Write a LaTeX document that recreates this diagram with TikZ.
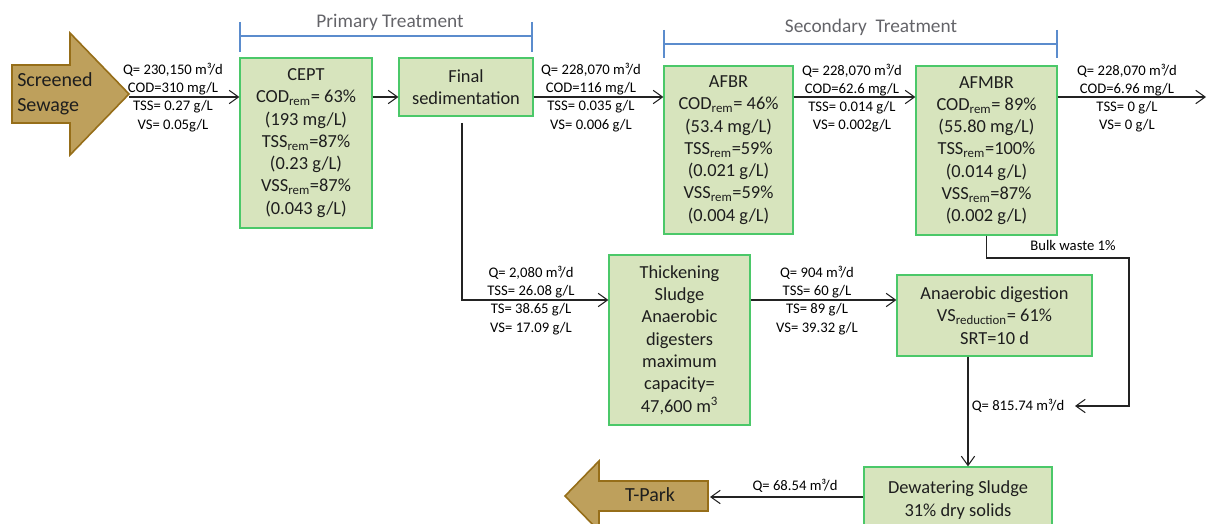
\documentclass[tikz,border=0pt]{standalone}
\usepackage{fontspec}
\setmainfont{Carlito}
\usetikzlibrary{arrows.meta}
\definecolor{boxfill}{RGB}{215,228,189}
\definecolor{boxline}{RGB}{75,200,105}
\definecolor{arrfill}{RGB}{190,160,92}
\definecolor{arrline}{RGB}{150,110,25}
\definecolor{brkcol}{RGB}{91,140,205}
\definecolor{ttlcol}{RGB}{100,100,105}
\definecolor{txtcol}{RGB}{30,30,30}
\definecolor{lncol}{RGB}{35,35,35}
\begin{document}
\begin{tikzpicture}[x=0.75pt,y=-0.75pt,
  proc/.style={draw=boxline, line width=0.9pt, fill=boxfill, inner sep=0pt, align=center,
    font=\fontsize{13.8}{16.7}\selectfont, text=txtcol},
  lbl/.style={align=center, font=\fontsize{11}{13.6}\selectfont, inner sep=0pt, text=black},
  arr/.style={draw=lncol, line width=0.8pt, -{Straight Barb[length=7pt,width=10pt]}},
  bigarrow/.style={fill=arrfill, draw=arrline, line width=1.2pt},
  brk/.style={draw=brkcol, line width=0.8pt},
  ttl/.style={font=\fontsize{14.5}{17}\selectfont, text=ttlcol, inner sep=0pt},
  bigtxt/.style={font=\fontsize{15}{18.75}\selectfont, text=txtcol, inner sep=0pt}
]
\useasboundingbox (0,0) rectangle (1208,524);
\clip (0,0) rectangle (1208,524);

% brackets
\draw[brk] (240,22) -- (240,52);
\draw[brk] (532,22) -- (532,52);
\draw[brk] (240,36) -- (532,36);
\node[ttl] (pt) at (390,22) {Primary Treatment};
\draw[brk] (664,30) -- (664,58);
\draw[brk] (1057,30) -- (1057,58);
\draw[brk] (664,44) -- (1057,44);
\node[ttl] (st) at (871,27) {Secondary\ \ Treatment};

% big arrows
\draw[bigarrow] (12,65) -- (70,65) -- (70,33) -- (129,94) -- (70,155) -- (70,123) -- (12,123) -- cycle;
\node[bigtxt, anchor=west, align=left] (src) at (17,94) {Screened\\Sewage};
\draw[bigarrow] (708,481) -- (599,481) -- (599,461) -- (565,496) -- (599,531) -- (599,511) -- (708,511) -- cycle;
\node[bigtxt] (tpark) at (650,495) {T-Park};

% boxes
\node[proc, minimum width=99pt, minimum height=127.5pt] (cept) at (306,143)
  {CEPT\\COD\textsubscript{rem}= 63\%\\(193 mg/L)\\TSS\textsubscript{rem}=87\%\\(0.23 g/L)\\VSS\textsubscript{rem}=87\%\\(0.043 g/L)};
\node[proc, minimum width=100.5pt, minimum height=43.5pt] (fs) at (466,87)
  {Final\\sedimentation};
\node[proc, minimum width=96.75pt, minimum height=126pt] (afbr) at (728.5,150)
  {AFBR\\COD\textsubscript{rem}= 46\%\\(53.4 mg/L)\\TSS\textsubscript{rem}=59\%\\(0.021 g/L)\\VSS\textsubscript{rem}=59\%\\(0.004 g/L)};
\node[proc, minimum width=105.75pt, minimum height=126.75pt] (afmbr) at (986.5,150.5)
  {AFMBR\\COD\textsubscript{rem}= 89\%\\(55.80 mg/L)\\TSS\textsubscript{rem}=100\%\\(0.014 g/L)\\VSS\textsubscript{rem}=87\%\\(0.002 g/L)};
\node[proc, minimum width=105.75pt, minimum height=127.5pt] (thick) at (679.5,340)
  {Thickening\\Sludge\\Anaerobic\\digesters\\maximum\\capacity=\\47,600 m\textsuperscript{3}};
\node[proc, minimum width=146.25pt, minimum height=60.75pt] (ad) at (994.5,315.5)
  {Anaerobic digestion\\VS\textsubscript{reduction}= 61\%\\SRT=10 d};
\node[proc, minimum width=141pt, minimum height=49.5pt] (dew) at (958,500)
  {Dewatering Sludge\\31\% dry solids};

% connectors
\coordinate (srctip) at (129,97);
\coordinate (r97) at (0,97);
\coordinate (r299) at (0,300);
\coordinate (r497) at (0,497);
\coordinate (c968) at (968,0);
\coordinate (out) at (1206,97);
\coordinate (fsdrop) at (462,123);
\coordinate (bw1) at (1129,258);
\coordinate (bwend) at (1075,406);
\coordinate (tpend) at (710,497);

\draw[arr] (srctip) -- (cept.west |- srctip);
\draw[arr] (cept.east |- r97) -- (fs.west |- r97);
\draw[arr] (fs.east |- r97) -- (afbr.west |- r97);
\draw[arr] (afbr.east |- r97) -- (afmbr.west |- r97);
\draw[arr] (afmbr.east |- r97) -- (out);
\draw[arr] (fsdrop) |- (thick.west |- r299);
\draw[arr] (thick.east |- r299) -- (ad.west |- r299);
\draw[arr] (ad.south -| c968) -- (dew.north -| c968);
\draw[arr] (afmbr.south) |- (bw1) |- (bwend);
\draw[arr] (dew.west |- r497) -- (tpend);

% labels
\node[lbl] (l1) at (173,97.5) {Q= 230,150 m³/d\\COD=310 mg/L\\TSS= 0.27 g/L\\VS= 0.05g/L};
\node[lbl] (l2) at (591,97.5) {Q= 228,070 m³/d\\COD=116 mg/L\\TSS= 0.035 g/L\\VS= 0.006 g/L};
\node[lbl] (l3) at (852,98) {Q= 228,070 m³/d\\COD=62.6 mg/L\\TSS= 0.014 g/L\\VS= 0.002g/L};
\node[lbl] (l4) at (1127,98) {Q= 228,070 m³/d\\COD=6.96 mg/L\\TSS= 0 g/L\\VS= 0 g/L};
\node[lbl] (l5) at (531,300.5) {Q= 2,080 m³/d\\TSS= 26.08 g/L\\TS= 38.65 g/L\\VS= 17.09 g/L};
\node[lbl] (l6) at (817,300.5) {Q= 904 m³/d\\TSS= 60 g/L\\TS= 89 g/L\\VS= 39.32 g/L};
\node[lbl] (l7) at (1073,245) {Bulk waste 1\%};
\node[lbl] (l8) at (1018,406) {Q= 815.74 m³/d};
\node[lbl] (l9) at (795,486) {Q= 68.54 m³/d};
\end{tikzpicture}
\end{document}
